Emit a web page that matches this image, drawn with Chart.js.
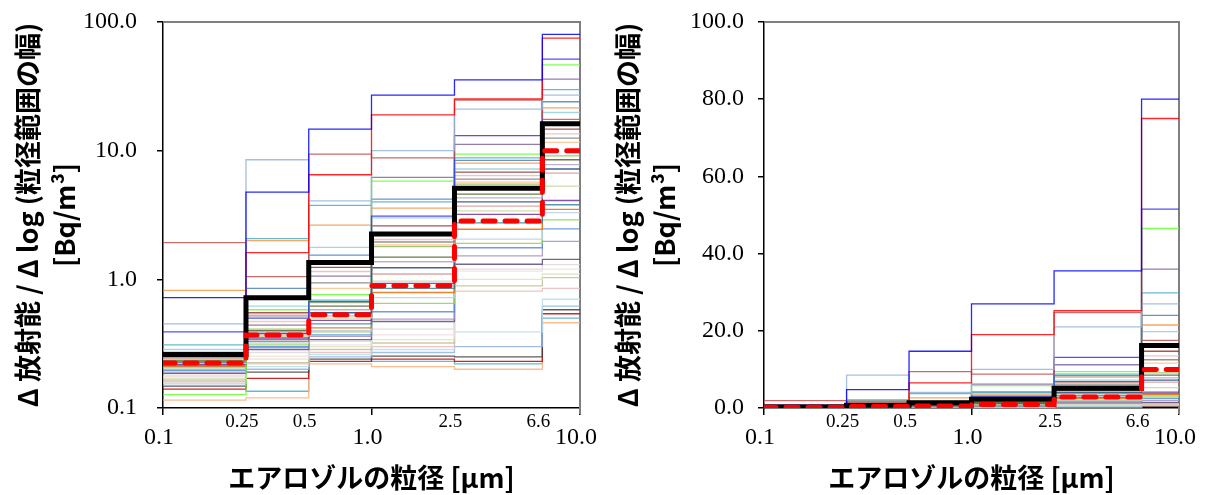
<!DOCTYPE html>
<html>
<head>
<meta charset="utf-8">
<script src="https://cdn.jsdelivr.net/npm/chart.js@4/dist/chart.umd.min.js"></script>
<style>
  html, body { margin: 0; padding: 0; background: #fff; }
  #wrap { position: relative; width: 1208px; height: 495px; }
  canvas { position: absolute; top: 0; }
  #logChart { left: 0; }
  #linChart { left: 600px; }
</style>
</head>
<body>
<div id="wrap">
  <canvas id="logChart" width="600" height="495"></canvas>
  <canvas id="linChart" width="608" height="495"></canvas>
</div>
<script>
// particle size bin edges [um]
const binEdges = [0.1, 0.25, 0.5, 1.0, 2.5, 6.6, 10.0];
const xTickLabels = ["0.1", "0.25", "0.5", "1.0", "2.5", "6.6", "10.0"];
const xMajorTicks = [0.1, 1.0, 10.0];
const logYTicks = [0.1, 1, 10, 100];
const linYTicks = [0, 20, 40, 60, 80, 100];

// mean and median of all samples, per bin
const meanValues = [0.26, 0.72, 1.35, 2.25, 5.1, 16.2];
const medianValues = [0.224, 0.37, 0.53, 0.89, 2.84, 10.0];

// individual samples, one row per sample, one value per bin
const sampleValues = [
  [0.72, 4.77, 14.7, 27, 35.5, 80],
  [0.26, 1.61, 6.5, 19, 25.2, 75],
  [0.45, 8.5, 4.07, 10, 21, 27],
  [1.93, 1.05, 9.4, 8.8, 24.7, 17.5],
  [0.39, 0.5, 0.67, 3.1, 13.1, 51.5],
  [0.127, 0.58, 0.76, 5.8, 9.4, 46.5],
  [0.265, 0.44, 1.06, 6.2, 11.2, 36],
  [0.31, 2.07, 3.76, 4.0, 8.8, 29.8],
  [0.25, 0.85, 1.54, 4.2, 8.4, 24],
  [0.82, 2.0, 2.64, 3.57, 8.0, 21.5],
  [0.285, 0.62, 1.77, 3.0, 7.2, 19.8],
  [0.27, 0.55, 1.24, 2.6, 6.8, 14.7],
  [0.248, 0.53, 1.15, 2.04, 6.4, 13.5],
  [0.245, 0.52, 0.94, 1.95, 6.0, 12.5],
  [0.24, 0.47, 0.85, 1.85, 5.7, 11.6],
  [0.237, 0.41, 0.66, 1.8, 5.5, 9.1],
  [0.233, 0.4, 0.62, 1.49, 4.6, 8.5],
  [0.23, 0.39, 0.58, 1.37, 4.3, 7.8],
  [0.228, 0.38, 0.55, 1.23, 4.0, 7.2],
  [0.225, 0.37, 0.52, 1.1, 3.7, 6.7],
  [0.222, 0.36, 0.50, 0.97, 3.4, 5.3],
  [0.218, 0.35, 0.48, 0.93, 3.2, 4.1],
  [0.214, 0.34, 0.45, 0.85, 2.75, 3.8],
  [0.21, 0.33, 0.42, 0.79, 2.45, 3.5],
  [0.206, 0.32, 0.40, 0.72, 2.05, 3.3],
  [0.2, 0.31, 0.39, 0.65, 1.9, 2.9],
  [0.196, 0.30, 0.37, 0.56, 1.76, 2.47],
  [0.19, 0.295, 0.36, 0.49, 1.52, 1.97],
  [0.186, 0.285, 0.34, 0.47, 1.31, 1.43],
  [0.18, 0.27, 0.33, 0.41, 1.2, 1.3],
  [0.175, 0.253, 0.31, 0.37, 1.16, 1.2],
  [0.17, 0.24, 0.30, 0.34, 1.0, 1.1],
  [0.165, 0.225, 0.285, 0.32, 0.89, 1.03],
  [0.16, 0.22, 0.27, 0.3, 0.81, 0.85],
  [0.155, 0.21, 0.26, 0.285, 0.39, 0.70],
  [0.15, 0.2, 0.25, 0.27, 0.30, 0.62],
  [0.148, 0.19, 0.24, 0.253, 0.25, 0.58],
  [0.14, 0.17, 0.23, 0.24, 0.23, 0.54],
  [0.115, 0.12, 0.22, 0.21, 0.2, 0.46],
  [0.255, 0.135, 0.69, 0.23, 0.22, 0.50],
];
const sampleColors = [
  "#0000ff", "#ff0000", "#95b3d7", "#c0504d", "#3333ee", "#66ff33", "#8064a2", "#4bacc6",
  "#4f81bd", "#f79646", "#93cddd", "#953735", "#e6b9b8", "#7f7f7f", "#fac090", "#9bbb59",
  "#4f6228", "#b3a2c7", "#1f497d", "#d99694", "#c3d69b", "#7030a0", "#31859c", "#e46c0a",
  "#b9cde5", "#92d050", "#558ed5", "#a28fc0", "#60497a", "#d9d9d9", "#f2dcdb", "#d7e4bd",
  "#c4bd97", "#e6b9b8", "#b7dee8", "#8eb4e3", "#404040", "#c00000", "#fcb07a", "#4bacc6",
];

const yTitle = ["\u0394 放射能 / \u0394 log (粒径範囲の幅)", "[Bq/m\u00b3]"];
const xTitle = "エアロゾルの粒径 [μm]";

const cjkFont = "'Noto Sans CJK JP', 'Noto Sans', sans-serif";
const serifFont = "'Liberation Serif', 'DejaVu Serif', serif";

// step line: each bin value is held from its lower edge to the next edge
function stepPoints(vals) {
  return binEdges.map((x, i) => ({ x: x, y: vals[Math.min(i, vals.length - 1)] }));
}

function buildDatasets() {
  const sets = [];
  sets.push({
    data: stepPoints(medianValues),
    borderColor: "#ff0000",
    borderWidth: 5,
    borderDash: [12, 10],
    borderCapStyle: "round",
  });
  sets.push({
    data: stepPoints(meanValues),
    borderColor: "#000000",
    borderWidth: 5,
  });
  sampleValues.forEach((vals, i) => {
    sets.push({
      data: stepPoints(vals),
      borderColor: sampleColors[i % sampleColors.length] + "d8",
      borderWidth: 1.3,
    });
  });
  sets.forEach((s) => {
    s.stepped = true;
    s.pointRadius = 0;
    s.fill = false;
  });
  return sets;
}

// frame on top / right of the plot plus the two-row x tick labels
const framePlugin = {
  id: "frame",
  beforeDatasetsDraw(chart) {
    const { ctx, chartArea: a } = chart;
    ctx.save();
    ctx.strokeStyle = "#7f7f7f";
    ctx.lineWidth = 2;
    ctx.beginPath();
    ctx.moveTo(a.left, a.top);
    ctx.lineTo(a.right, a.top);
    ctx.lineTo(a.right, a.bottom + 6);
    ctx.stroke();
    ctx.restore();
  },
  afterDraw(chart) {
    const { ctx, chartArea: a, scales } = chart;
    const x = scales.x;
    ctx.save();
    ctx.fillStyle = "#000";
    ctx.textAlign = "center";
    ctx.textBaseline = "middle";
    binEdges.forEach((v, i) => {
      const major = xMajorTicks.indexOf(v) >= 0;
      const px = x.getPixelForValue(v) - 4;
      ctx.font = (major ? "24px " : "19px ") + serifFont;
      ctx.fillText(xTickLabels[i], px, a.bottom + (major ? 30 : 14));
    });
    ctx.restore();
  },
};

function makeChart(canvasId, logY, yWidth, padRight, yPad) {
  const yTicks = logY ? logYTicks : linYTicks;
  return new Chart(document.getElementById(canvasId), {
    type: "line",
    data: { datasets: buildDatasets() },
    plugins: [framePlugin],
    options: {
      responsive: false,
      animation: false,
      layout: { padding: { top: 22, right: padRight, left: 0, bottom: 0 } },
      plugins: { legend: { display: false }, tooltip: { enabled: false } },
      scales: {
        x: {
          type: "logarithmic",
          min: 0.1,
          max: 10,
          afterBuildTicks(scale) {
            scale.ticks = xMajorTicks.map((v) => ({ value: v }));
          },
          afterFit(scale) {
            scale.height = 87;
            scale.paddingLeft = 0;
            scale.paddingRight = 0;
          },
          ticks: { display: false },
          grid: { drawOnChartArea: false, drawTicks: true, tickLength: 7, color: "#000", lineWidth: 1.5 },
          border: { color: "#000", width: 1.5 },
          title: {
            display: true,
            text: xTitle,
            align: "center",
            font: { family: cjkFont, size: 27, weight: "bold" },
            color: "#000",
            padding: { top: 0, bottom: 1 },
          },
        },
        y: {
          type: logY ? "logarithmic" : "linear",
          min: logY ? 0.1 : 0,
          max: 100,
          afterBuildTicks(scale) {
            scale.ticks = yTicks.map((v) => ({ value: v }));
          },
          afterFit(scale) {
            scale.width = yWidth;
            scale.paddingTop = 0;
            scale.paddingBottom = 0;
          },
          ticks: {
            font: { family: serifFont, size: 24 },
            color: "#000",
            padding: yPad,
            callback: (v) => Number(v).toFixed(1),
          },
          grid: { drawOnChartArea: false, drawTicks: true, tickLength: 6, color: "#000", lineWidth: 1.5 },
          border: { color: "#000", width: 1.5 },
          title: {
            display: true,
            text: yTitle,
            font: { family: cjkFont, size: 27, weight: "bold", lineHeight: 1.37 },
            color: "#000",
            padding: { top: 9, bottom: 0 },
          },
        },
      },
    },
  });
}

makeChart("logChart", true, 163, 20, 20);
makeChart("linChart", false, 164, 29, 14);
</script>
</body>
</html>
